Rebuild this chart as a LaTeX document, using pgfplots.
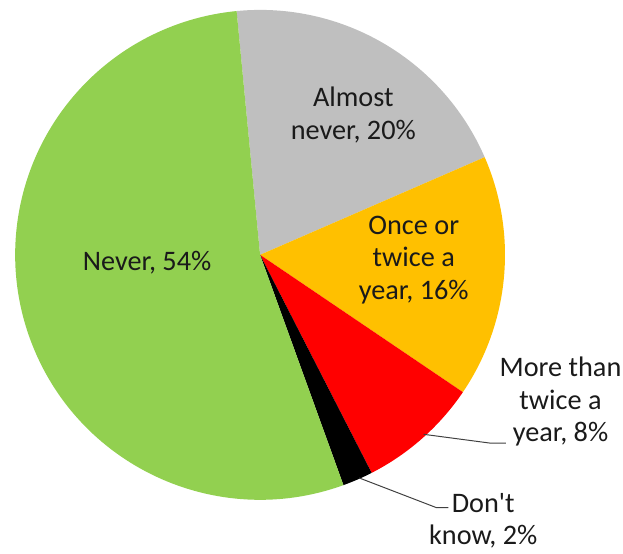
\documentclass[border=0pt]{standalone}
\usepackage{pgfplots}
\pgfplotsset{compat=1.18}
\usepackage{fontspec}
\setmainfont{Carlito}
\definecolor{cNever}{HTML}{92D050}
\definecolor{cAlmost}{HTML}{BFBFBF}
\definecolor{cOnce}{HTML}{FFC000}
\definecolor{cMore}{HTML}{FF0000}
\definecolor{cDK}{HTML}{000000}
\definecolor{txt}{HTML}{1A1A1A}
% slice values (percent), clockwise from the first boundary
\xdef\cur{95.5}
\gdef\slices{}
\foreach \v/\c in {20/cAlmost,16/cOnce,8/cMore,2/cDK,54/cNever}{
  \pgfmathsetmacro\nxt{\cur-3.6*\v}
  \xdef\slices{\slices\noexpand\fill[\c] (axis cs:257,301) -- ++(\cur:247bp) arc[start angle=\cur, end angle=\nxt, radius=247bp] -- cycle;}
  \xdef\cur{\nxt}
}
\begin{document}
\begin{tikzpicture}
\begin{axis}[
  width=623bp, height=558bp, scale only axis,
  xmin=0, xmax=623, ymin=0, ymax=558,
  hide axis, clip=false,
]
\path (rel axis cs:0,0) rectangle (rel axis cs:1,1);
\slices
\begin{scope}[every node/.style={font=\fontsize{28.6pt}{33pt}\selectfont, text=txt, align=center, inner sep=0pt}]
\node at (axis cs:351,442) {Almost\\never, 20\%};
\node at (axis cs:412,296) {Once or\\twice a\\year, 16\%};
\node at (axis cs:143,293) {Never, 54\%};
\node at (axis cs:560,153) {More than\\twice a\\year, 8\%};
\node at (axis cs:482,33) {Don\textquotesingle t\\know, 2\%};
\end{scope}
\draw[black!75, line width=1pt] (axis cs:422,120) -- (axis cs:490,111) -- (axis cs:505,111);
\draw[black!75, line width=1pt] (axis cs:357,76) -- (axis cs:435,46) -- (axis cs:447,46);
\end{axis}
\end{tikzpicture}
\end{document}
